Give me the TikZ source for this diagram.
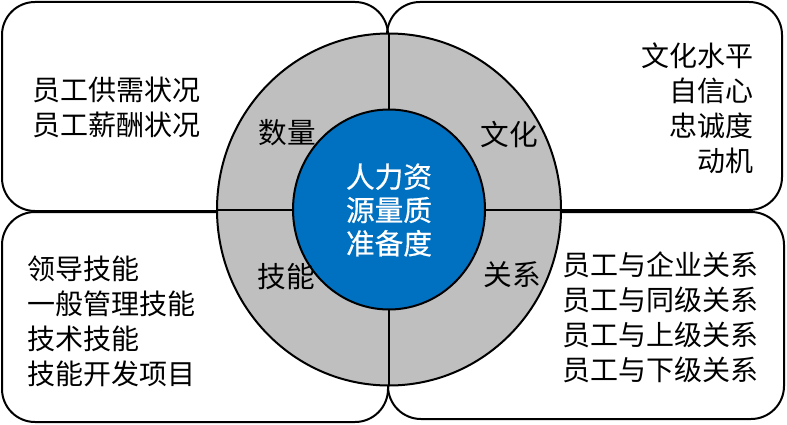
\documentclass[tikz,border=0pt]{standalone}
\usepackage{fontspec}
\setmainfont{Noto Sans CJK SC}
\newfontfamily\corefont[FakeBold=0.6]{Noto Sans CJK SC}
\usetikzlibrary{shapes.geometric}
\definecolor{ringgray}{HTML}{BFBFBF}
\definecolor{coreblue}{HTML}{0070C0}
\tikzset{
  panel/.style={draw=black, line width=1.5pt, rounded corners=24.75pt, rectangle, inner sep=0pt, outer sep=0pt},
  ringstyle/.style={ellipse, draw=black, line width=1.5pt, fill=ringgray, inner sep=0pt, outer sep=0pt,
    minimum width=258pt, minimum height=264pt},
  corestyle/.style={ellipse, draw=black, line width=1.5pt, fill=coreblue, inner sep=0pt, outer sep=0pt,
    minimum width=144pt, minimum height=150pt},
  divider/.style={draw=black, line width=1.5pt},
  itemtext/.style={inner sep=0pt, font=\fontsize{21pt}{26.25pt}\selectfont},
  ringlabel/.style={inner sep=0pt, font=\fontsize{21.5pt}{26.25pt}\selectfont},
  coretext/.style={inner sep=0pt, text=white, align=center, font=\corefont\fontsize{21.5pt}{25pt}\selectfont}
}
\begin{document}
\begin{tikzpicture}[x=0.75pt, y=-0.75pt]
\useasboundingbox (0,0) rectangle (787,424);
% panels
\node[panel, minimum width=289.5pt, minimum height=156.75pt] (tl) at (195,106.5) {};
\node[panel, minimum width=296.25pt, minimum height=156pt] (tr) at (584.5,106) {};
\node[panel, minimum width=289.5pt, minimum height=157.5pt] (bl) at (195,317) {};
\node[panel, minimum width=297pt, minimum height=155.25pt] (br) at (586,315.5) {};
% ring and core
\node[ringstyle] (ring) at (389,209.5) {};
\node[corestyle] (core) at (389,209.5) {};
\draw[divider] (ring.north) -- (core.north);
\draw[divider] (core.south) -- (ring.south);
\draw[divider] (ring.west) -- (core.west);
\draw[divider] (core.east) -- (ring.east);
% texts
\node[itemtext, anchor=west, align=left] (tltext) at (32,107.5) {员工供需状况\\员工薪酬状况};
\node[itemtext, anchor=east, align=right] (trtext) at (754,108.5) {文化水平\\自信心\\忠诚度\\动机};
\node[itemtext, anchor=west, align=left] (bltext) at (27,321.5) {领导技能\\一般管理技能\\技术技能\\技能开发项目};
\node[itemtext, anchor=west, align=left] (brtext) at (562,317.5) {员工与企业关系\\员工与同级关系\\员工与上级关系\\员工与下级关系};
\node[ringlabel] (lq) at (287,133) {数量};
\node[ringlabel] (lc) at (509,135) {文化};
\node[ringlabel] (ls) at (286,277) {技能};
\node[ringlabel] (lr) at (512,275) {关系};
\node[coretext] (ct) at (389,210) {人力资\\源量质\\准备度};
\end{tikzpicture}
\end{document}
